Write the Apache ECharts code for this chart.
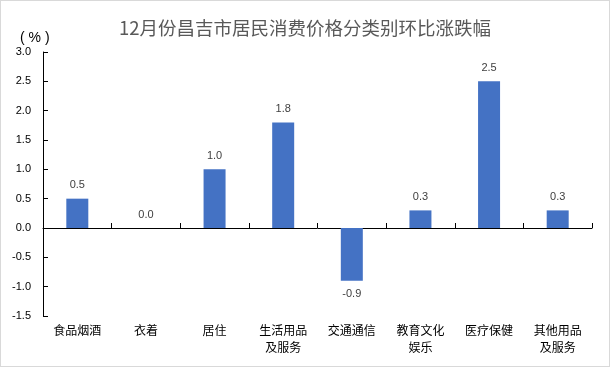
<!DOCTYPE html>
<html><head><meta charset="utf-8">
<script src="https://cdn.jsdelivr.net/npm/echarts@6/dist/echarts.min.js"></script>
<style>html,body{margin:0;padding:0;background:#fff}#c{width:610px;height:367px;box-sizing:border-box;border:1px solid #d9d9d9}</style>
</head><body><div id="c"></div>
<script>
var categories = ['食品烟酒','衣着','居住','生活用品\n及服务','交通通信','教育文化\n娱乐','医疗保健','其他用品\n及服务'];
var values = [0.5, 0.0, 1.0, 1.8, -0.9, 0.3, 2.5, 0.3];
var titleText = '12月份昌吉市居民消费价格分类别环比涨跌幅';
var unitText = '( % )';
var yMin = -1.5, yMax = 3.0, yStep = 0.5;

var chart = echarts.init(document.getElementById('c'), null, {renderer:'canvas'});
var font = '"Noto Sans CJK SC", "Microsoft YaHei", sans-serif';
var d = values.map(function(v){
  return v < 0 ? {value:v, label:{position:'bottom'}} : v;
});
chart.setOption({
  animation:false,
  textStyle:{fontFamily:font},
  title:[{text:titleText, left:'center', top:13, textStyle:{fontSize:18.5, fontWeight:'normal', color:'#595959', fontFamily:font}},
         {text:unitText, left:14, top:25, textStyle:{fontSize:14, fontWeight:'normal', color:'#000', fontFamily:'Arial, "Liberation Sans", sans-serif'}}],
  grid:{left:42, right:17, top:51, bottom:50, containLabel:false},
  xAxis:[{type:'category', data:categories, position:'bottom',
          axisLine:{onZero:true, lineStyle:{color:'#000', width:1}},
          axisTick:{show:true, inside:true, length:5, lineStyle:{color:'#000'}},
          axisLabel:{show:false}},
         {type:'category', data:categories, position:'bottom', gridIndex:0,
          axisLine:{show:false}, axisTick:{show:false},
          axisLabel:{show:true, interval:0, color:'#000', fontSize:12, lineHeight:17, margin:6, fontFamily:font}}],
  yAxis:{type:'value', min:yMin, max:yMax, interval:yStep,
         axisLine:{show:true, lineStyle:{color:'#000', width:1}},
         axisTick:{show:true, inside:true, length:5, lineStyle:{color:'#000'}},
         splitLine:{show:false},
         axisLabel:{color:'#000', fontSize:11, margin:12, fontFamily:'Arial, "Liberation Sans", sans-serif', formatter:function(v){return v.toFixed(1);}}},
  series:[{type:'bar', data:d, xAxisIndex:0, barWidth:22,
           itemStyle:{color:'#4472C4'},
           label:{show:true, position:'top', distance:8, color:'#404040', fontSize:11, fontFamily:'Arial, "Liberation Sans", sans-serif',
                  formatter:function(p){return Number(p.value).toFixed(1);}}
          }]
});
</script></body></html>
